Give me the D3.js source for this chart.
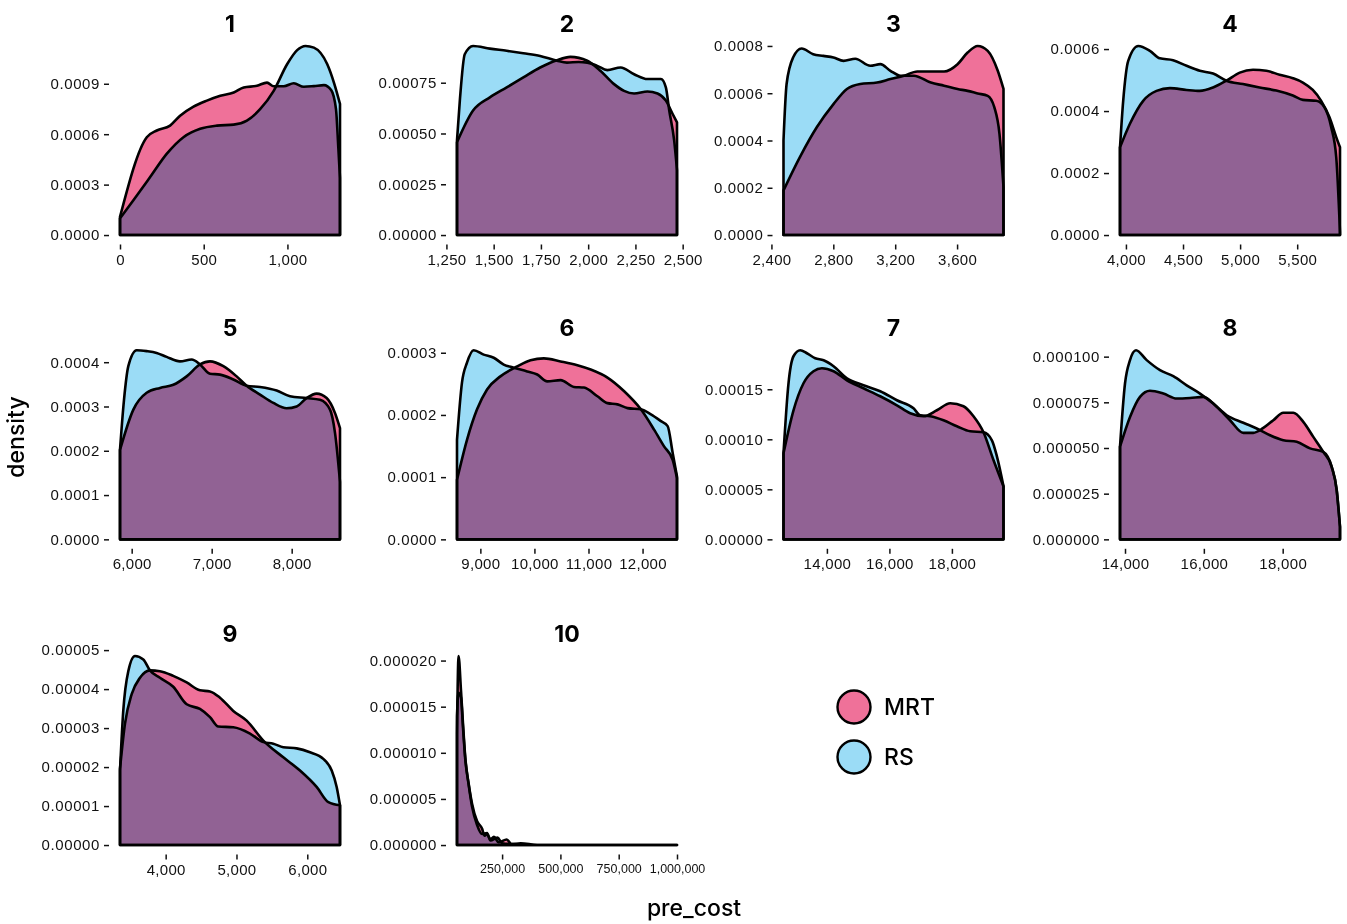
<!DOCTYPE html>
<html>
<head>
<meta charset="utf-8">
<script src="https://cdn.jsdelivr.net/npm/d3@7.9.0/dist/d3.min.js"></script>
<style>
  body { margin: 0; background: #fff; }
  svg { display: block; font-family: Inter, "DejaVu Sans", sans-serif; }
  .tick text { font-size: 15px; font-weight: 500; fill: #111; letter-spacing: 0.6px; }
  .tick line { stroke: #111; stroke-width: 1.5; }
  .dens { mix-blend-mode: multiply; stroke: #000; stroke-width: 2.6; stroke-linejoin: round; }
</style>
</head>
<body>
<svg id="chart" width="1347" height="924"></svg>
<script>
// density curves: [pre_cost, density]
const mrt1 = [[0,0.000108],[160,0.000582],[220,0.000622],[299,0.000651],[359,0.00071],[439,0.000764],[519,0.0008],[599,0.000829],[679,0.000848],[739,0.000878],[818,0.000888],[878,0.000907],[918,0.000885],[978,0.000885],[1038,0.000903],[1098,0.000882],[1158,0.000886],[1218,0.000892],[1262,0.000862],[1290,0.00075],[1304,0.00052],[1314,0.00034]];
const rs1  = [[0,0.0000988],[80,0.000207],[180,0.000345],[280,0.000484],[379,0.000582],[479,0.000632],[579,0.000651],[679,0.000657],[758,0.000681],[838,0.00075],[918,0.000858],[998,0.001016],[1058,0.0011],[1108,0.001125],[1158,0.001115],[1238,0.001016],[1280,0.0009],[1314,0.00078]];

const mrt2 = [[1306,0.000457],[1391,0.000613],[1480,0.000678],[1569,0.000727],[1657,0.000776],[1746,0.000825],[1835,0.000861],[1906,0.000877],[1995,0.000858],[2066,0.000808],[2137,0.000743],[2190,0.00071],[2243,0.000697],[2314,0.000707],[2367,0.000697],[2411,0.000662],[2447,0.000596],[2470,0.000555]];
const rs2  = [[1306,0.000466],[1321,0.000662],[1347,0.00089],[1391,0.000931],[1480,0.000918],[1569,0.000907],[1657,0.000895],[1746,0.000882],[1835,0.000858],[1888,0.000849],[1950,0.000852],[1995,0.000849],[2048,0.000833],[2101,0.000812],[2172,0.000825],[2243,0.000792],[2314,0.000768],[2385,0.000768],[2411,0.000727],[2429,0.000613],[2455,0.000466],[2470,0.00032]];

const mrt3 = [[2478,0.000189],[2584,0.00033],[2693,0.000456],[2801,0.000554],[2888,0.000618],[2974,0.000639],[3083,0.000645],[3169,0.00066],[3256,0.000674],[3343,0.000692],[3430,0.000692],[3516,0.000692],[3603,0.000723],[3668,0.000772],[3733,0.0008],[3798,0.000779],[3863,0.000695],[3900,0.000618]];
const rs3  = [[2478,0.0004],[2498,0.000639],[2540,0.000751],[2595,0.000789],[2670,0.000765],[2736,0.000758],[2801,0.000751],[2866,0.000737],[2942,0.000746],[3039,0.000716],[3104,0.000723],[3169,0.000695],[3235,0.000674],[3321,0.000674],[3430,0.000645],[3516,0.000632],[3603,0.000618],[3668,0.00061],[3733,0.000599],[3798,0.000589],[3841,0.00054],[3874,0.000428],[3900,0.000203]];

const mrt4 = [[3948,0.000283],[4035,0.000359],[4151,0.000433],[4268,0.000465],[4385,0.000474],[4531,0.000468],[4647,0.000465],[4763,0.000476],[4880,0.000498],[4997,0.000524],[5113,0.000533],[5230,0.00053],[5346,0.000517],[5462,0.000506],[5550,0.000492],[5637,0.000468],[5710,0.000433],[5783,0.00038],[5842,0.000316],[5875,0.000283]];
const rs4  = [[3948,0.000283],[3976,0.000433],[4020,0.000562],[4108,0.00061],[4210,0.000594],[4297,0.00057],[4413,0.000564],[4531,0.000546],[4647,0.00053],[4763,0.000521],[4880,0.000498],[5025,0.000487],[5171,0.000476],[5317,0.000466],[5462,0.00045],[5550,0.000436],[5667,0.000433],[5739,0.000412],[5798,0.000348],[5842,0.000251],[5875,0.00001]];

const mrt5 = [[5854,0.000202],[6021,0.000293],[6187,0.000331],[6354,0.000342],[6521,0.000349],[6687,0.000368],[6854,0.000395],[6979,0.000402],[7146,0.000391],[7312,0.000368],[7437,0.000347],[7604,0.000327],[7771,0.000308],[7937,0.000296],[8062,0.0003],[8187,0.000319],[8312,0.000329],[8437,0.000319],[8542,0.000285],[8604,0.000251]];
const rs5  = [[5854,0.000202],[5904,0.000315],[5958,0.000391],[6062,0.000427],[6187,0.000425],[6312,0.000421],[6437,0.000412],[6604,0.000402],[6750,0.000406],[6854,0.000395],[6979,0.000374],[7104,0.000372],[7271,0.000361],[7437,0.000347],[7604,0.000344],[7812,0.000336],[7979,0.000323],[8187,0.000319],[8354,0.000315],[8479,0.000293],[8542,0.00024],[8604,0.00013]];

const mrt6 = [[8568,0.0000957],[8753,0.00016],[8939,0.000209],[9124,0.000241],[9371,0.000262],[9681,0.000278],[9928,0.000288],[10175,0.000291],[10484,0.000286],[10794,0.00028],[11041,0.000273],[11351,0.00026],[11660,0.000238],[11969,0.000209],[12216,0.000176],[12401,0.000149],[12557,0.000128],[12637,0.0000984]];
const rs6  = [[8568,0.00016],[8660,0.000252],[8753,0.000284],[8876,0.000304],[9061,0.000297],[9247,0.000292],[9432,0.000281],[9618,0.000276],[9866,0.00027],[10052,0.000265],[10237,0.000254],[10484,0.000256],[10731,0.000245],[10917,0.000244],[11165,0.00023],[11351,0.000219],[11536,0.000217],[11722,0.000211],[11969,0.000209],[12154,0.000201],[12340,0.00019],[12464,0.000182],[12557,0.000139],[12637,0.000101]];

const mrt7 = [[12611,0.000086],[12931,0.000129],[13251,0.000156],[13571,0.000168],[13840,0.000171],[14213,0.000168],[14640,0.000159],[15171,0.000151],[15706,0.000143],[16240,0.000134],[16666,0.000126],[17091,0.000123],[17520,0.000129],[17946,0.000136],[18371,0.000133],[18691,0.000123],[19011,0.000107],[19333,0.000079],[19651,0.000053]];
const rs7  = [[12611,0.000086],[12771,0.000156],[12931,0.000183],[13146,0.000189],[13360,0.000186],[13626,0.000181],[13893,0.000179],[14213,0.000173],[14640,0.000161],[15171,0.000154],[15706,0.000148],[16240,0.000139],[16771,0.000131],[16986,0.000124],[17306,0.000123],[17731,0.000119],[18160,0.000113],[18586,0.000108],[19011,0.000107],[19280,0.000099],[19440,0.000083],[19651,0.000053]];

const mrt8 = [[13873,0.0000507],[14127,0.000067],[14380,0.000078],[14634,0.0000813],[14972,0.0000798],[15312,0.0000771],[15649,0.0000774],[15986,0.000078],[16326,0.0000725],[16664,0.0000652],[17001,0.0000583],[17255,0.0000583],[17509,0.000061],[17762,0.0000652],[18016,0.0000693],[18270,0.0000693],[18523,0.0000643],[18777,0.0000561],[19030,0.0000479],[19244,0.0000397],[19370,0.000027],[19454,0.0000069]];
const rs8  = [[13873,0.0000507],[14000,0.0000853],[14127,0.0000981],[14279,0.0001035],[14550,0.0000981],[14888,0.0000926],[15225,0.0000893],[15565,0.0000843],[15903,0.0000798],[16240,0.0000743],[16580,0.0000679],[17001,0.0000638],[17341,0.0000607],[17678,0.000057],[18016,0.0000543],[18356,0.0000534],[18694,0.0000498],[19030,0.0000479],[19244,0.0000397],[19370,0.000027],[19454,0.0000069]];

const mrt9 = [[3355,0.0000196],[3425,0.0000311],[3520,0.0000387],[3637,0.0000429],[3778,0.0000448],[3919,0.0000446],[4107,0.0000434],[4297,0.0000417],[4484,0.0000397],[4626,0.0000394],[4767,0.0000378],[4955,0.0000344],[5144,0.0000319],[5379,0.0000268],[5661,0.0000225],[5897,0.0000191],[6132,0.0000149],[6298,0.000011],[6462,0.0000102]];
const rs9  = [[3355,0.0000191],[3401,0.0000344],[3472,0.0000446],[3566,0.0000485],[3684,0.0000476],[3778,0.0000448],[3919,0.0000429],[4107,0.0000406],[4297,0.0000361],[4484,0.0000349],[4626,0.0000328],[4743,0.0000304],[4955,0.0000302],[5191,0.0000286],[5379,0.0000264],[5520,0.000026],[5661,0.0000251],[5850,0.0000248],[6038,0.0000238],[6226,0.0000221],[6345,0.0000191],[6415,0.0000149],[6462,0.0000102]];

const mrt10 = [[56600,0.000012],[63250,0.0000205],[73600,0.0000168],[82200,0.0000132],[92100,0.0000095],[106300,0.0000067],[120900,0.0000045],[142400,0.0000026],[163900,0.0000018],[175000,0.0000010],[185400,0.0000012],[200000,0.0000006],[215000,0.0000009],[235000,0.0000003],[270000,0.0000006],[290000,0.0000001],[330000,0.0000002],[400000,0],[1000000,0]];
const rs10  = [[56600,0.000014],[62500,0.0000165],[73600,0.000016],[82200,0.0000128],[92100,0.0000093],[106300,0.0000066],[120900,0.0000042],[142400,0.0000022],[163900,0.0000012],[185400,0.0000013],[200000,0.0000005],[230000,0.0000008],[250000,0.0000002],[300000,0.0000001],[400000,0],[1000000,0]];

const panelNames = ['1','2','3','4','5','6','7','8','9','10'];
const mrtSeries = [mrt1, mrt2, mrt3, mrt4, mrt5, mrt6, mrt7, mrt8, mrt9, mrt10];
const rsSeries  = [rs1, rs2, rs3, rs4, rs5, rs6, rs7, rs8, rs9, rs10];
const groups = ['MRT', 'RS'];

const xTicks = [
  [0,500,1000], [1250,1500,1750,2000,2250,2500], [2400,2800,3200,3600], [4000,4500,5000,5500],
  [6000,7000,8000], [9000,10000,11000,12000], [14000,16000,18000], [14000,16000,18000],
  [4000,5000,6000], [250000,500000,750000,1000000]
];
const yTicks = [
  ['0.0000','0.0003','0.0006','0.0009'],
  ['0.00000','0.00025','0.00050','0.00075'],
  ['0.0000','0.0002','0.0004','0.0006','0.0008'],
  ['0.0000','0.0002','0.0004','0.0006'],
  ['0.0000','0.0001','0.0002','0.0003','0.0004'],
  ['0.0000','0.0001','0.0002','0.0003'],
  ['0.00000','0.00005','0.00010','0.00015'],
  ['0.000000','0.000025','0.000050','0.000075','0.000100'],
  ['0.00000','0.00001','0.00002','0.00003','0.00004','0.00005'],
  ['0.000000','0.000005','0.000010','0.000015','0.000020']
];

const color = d3.scaleOrdinal(groups, ['#ef7199', '#9bdcf6']);

// layout
const W = 242, H = 208;
const colLeft = [109, 446, 772.5, 1109];
const rowTop  = [36.5, 340.8, 646.5];

const svg = d3.select('#chart');
const fmt = d3.format(',');

panelNames.forEach((name, i) => {
  const left = colLeft[i % 4], top = rowTop[Math.floor(i / 4)];
  const both = mrtSeries[i].concat(rsSeries[i]);
  const [lo, hi] = d3.extent(both, d => d[0]);
  const ymax = d3.max(both, d => d[1]);
  const padX = (hi - lo) * 0.05;

  const x = d3.scaleLinear().domain([lo - padX, hi + padX]).range([left, left + W]);
  const y = d3.scaleLinear().domain([-0.05 * ymax, 1.05 * ymax]).range([top + H, top]);

  const area = d3.area()
    .x(d => x(d[0]))
    .y0(y(0))
    .y1(d => y(d[1]))
    .curve(d3.curveMonotoneX);

  const g = svg.append('g');

  g.selectAll('path.dens')
    .data([mrtSeries[i], rsSeries[i]])
    .enter().append('path')
      .attr('class', 'dens')
      .attr('fill', (_, k) => color(groups[k]))
      .attr('d', area);

  const xa = g.append('g')
    .attr('transform', `translate(0,${top + H})`)
    .call(d3.axisBottom(x).tickValues(xTicks[i]).tickFormat(fmt).tickSize(5).tickPadding(5));
  xa.select('.domain').remove();
  xa.selectAll('text').style('letter-spacing', '0.3px');
  if (i === 9) xa.selectAll('text').style('font-size', '12.5px').style('letter-spacing', '0px');

  const ya = g.append('g')
    .attr('transform', `translate(${left},0)`)
    .call(d3.axisLeft(y).tickValues(yTicks[i].map(Number)).tickFormat((_, k) => yTicks[i][k]).tickSize(5).tickPadding(4));
  ya.select('.domain').remove();

  g.append('text')
    .attr('x', left + W / 2)
    .attr('y', top - 5)
    .attr('text-anchor', 'middle')
    .style('font-size', '23px')
    .style('font-weight', 700)
    .text(name);
});

// axis titles
svg.append('text')
  .attr('transform', 'translate(24,437) rotate(-90)')
  .attr('text-anchor', 'middle')
  .style('font-size', '23px')
  .style('font-weight', 500)
  .text('density');

svg.append('text')
  .attr('x', 694)
  .attr('y', 916)
  .attr('text-anchor', 'middle')
  .style('font-size', '23px')
  .style('font-weight', 500)
  .text('pre_cost');

// legend
const legend = svg.append('g').attr('transform', 'translate(854,707)');
const item = legend.selectAll('g')
  .data(groups)
  .enter().append('g')
    .attr('transform', (_, k) => `translate(0,${k * 50})`);
item.append('circle')
  .attr('r', 16.5)
  .attr('fill', d => color(d))
  .attr('stroke', '#000')
  .attr('stroke-width', 2.4);
item.append('text')
  .attr('x', 30)
  .attr('dy', '0.36em')
  .style('font-size', '23px')
  .style('font-weight', 500)
  .text(d => d);
</script>
</body>
</html>
